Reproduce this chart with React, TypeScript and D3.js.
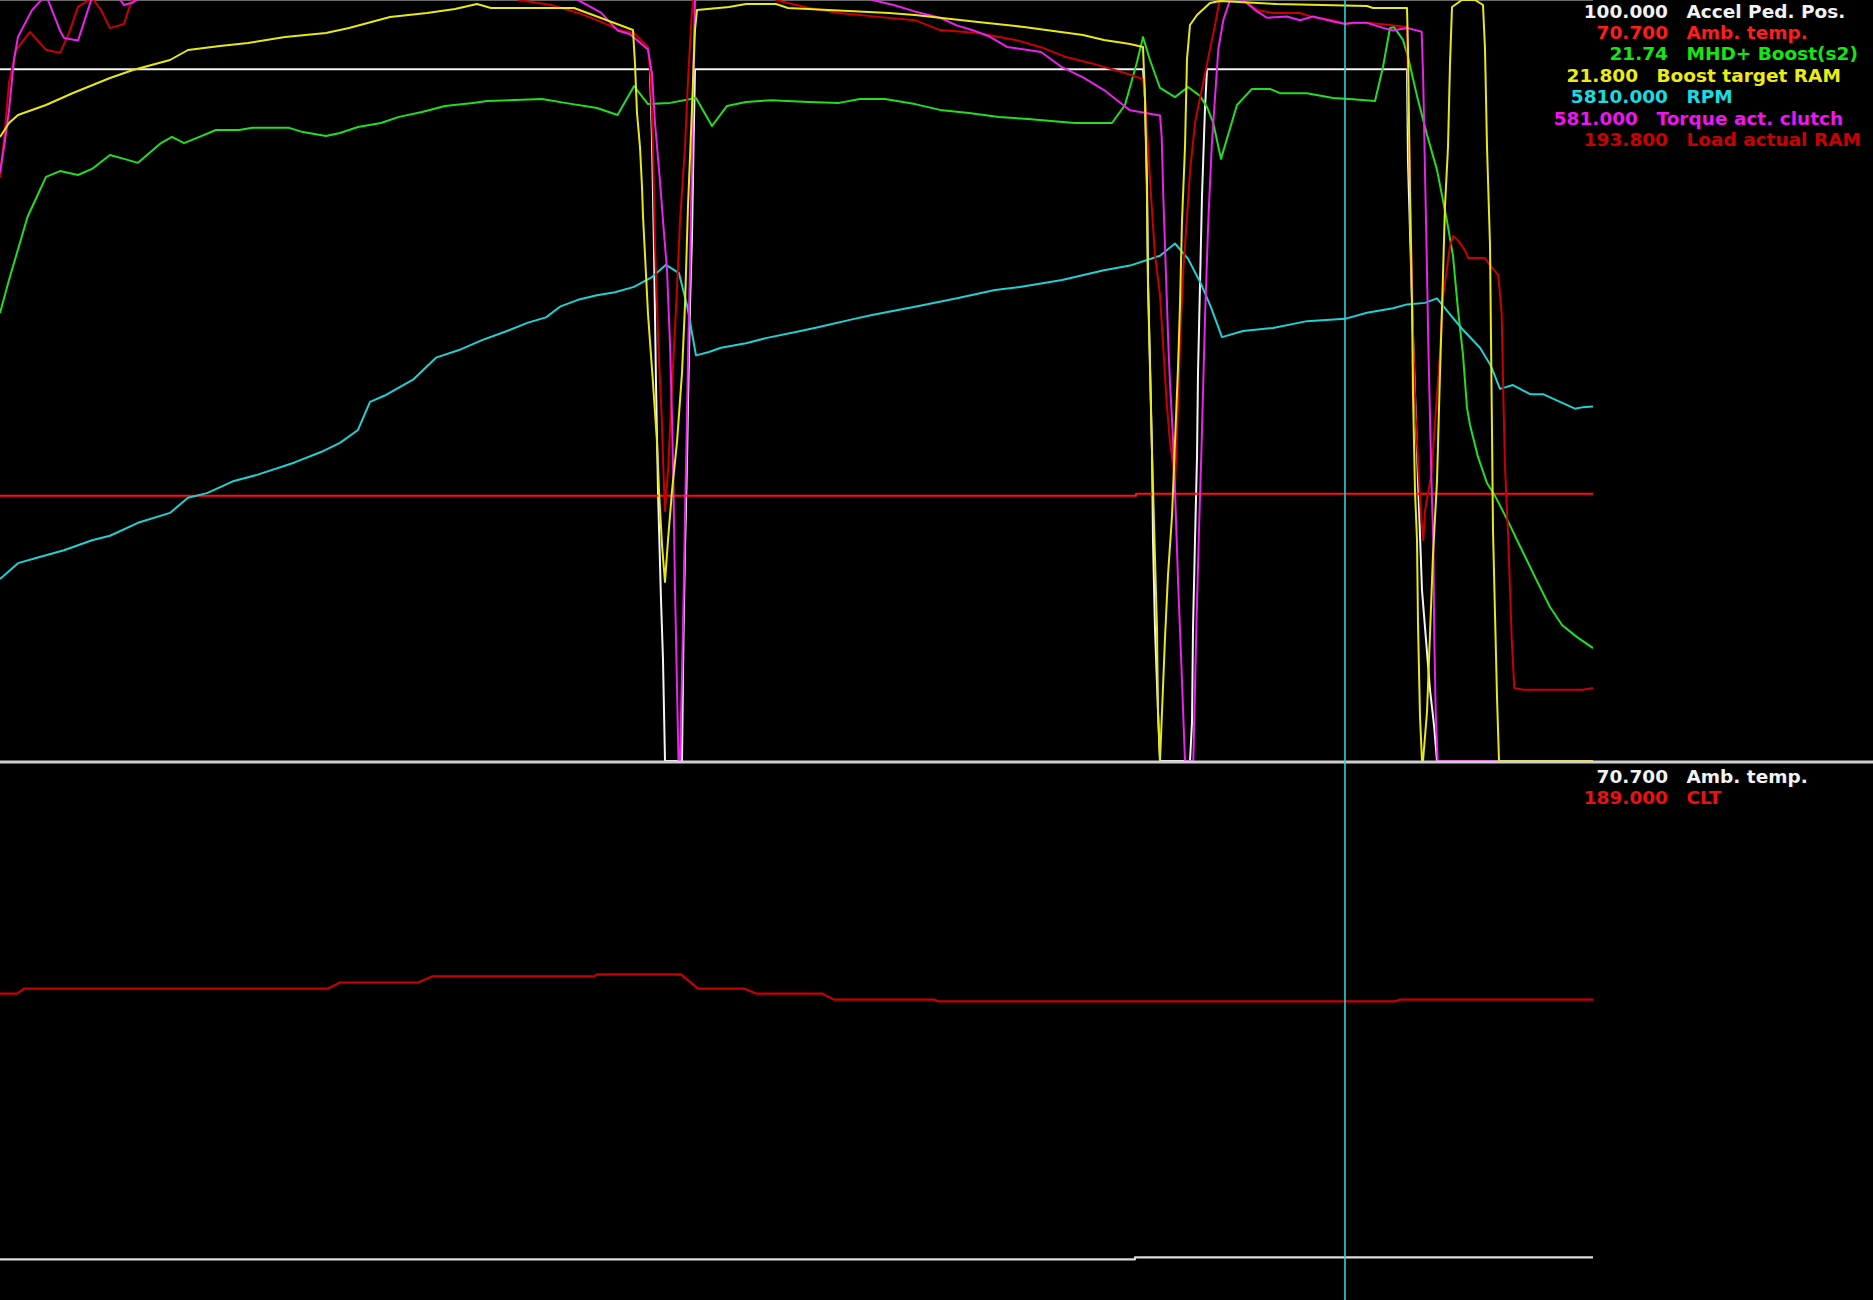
import * as d3 from "d3"

// log timeline (seconds) and cursor position
const timeDomain: [number, number] = [0, 15.93]
const cursorTime = 13.45

// ---- top panel series, [time s, value] ----
const accelPedal: [number, number][] = [
  [0, 100], [6.5, 100], [6.52, 89.8], [6.54, 73.9], [6.56, 54.6], [6.58, 39.0], [6.61, 23.3], [6.63, 14.6], [6.65, 0],
  [6.82, 0], [6.835, 18.4], [6.85, 30.5], [6.87, 43.2], [6.88, 51.7], [6.9, 65.9], [6.92, 75.9], [6.935, 88.8], [6.95, 100],
  [11.43, 100], [11.45, 95.8], [11.47, 83.4], [11.48, 69.5], [11.5, 57.5], [11.52, 44.7], [11.53, 31.9], [11.55, 19.1], [11.58, 7.1], [11.6, 0],
  [11.9, 0], [11.92, 5.6], [11.93, 19.1], [11.95, 31.9], [11.97, 43.9], [11.98, 56.1], [12.0, 68.8], [12.02, 81.7], [12.05, 94.4], [12.07, 100],
  [14.07, 100], [14.08, 86.5], [14.13, 61.6], [14.18, 40.6], [14.22, 24.7], [14.26, 17.5], [14.3, 10.3], [14.34, 5.2], [14.37, 0], [15.93, 0],
]

const ambTempTop: [number, number][] = [[0, 70.2], [11.36, 70.7], [15.93, 70.7]]

const boost: [number, number][] = [
  [0, 14.72], [0.09, 15.8], [0.275, 17.87], [0.46, 19.19], [0.6, 19.38], [0.78, 19.25], [0.92, 19.45], [1.1, 19.91], [1.24, 19.78],
  [1.38, 19.65], [1.61, 20.3], [1.72, 20.5], [1.84, 20.3], [1.97, 20.47], [2.16, 20.73], [2.39, 20.73], [2.525, 20.8], [2.89, 20.8],
  [3.03, 20.66], [3.26, 20.53], [3.4, 20.63], [3.58, 20.83], [3.81, 20.96], [3.99, 21.16], [4.22, 21.32], [4.45, 21.52], [4.73, 21.62],
  [4.87, 21.68], [5.42, 21.75], [5.65, 21.62], [5.97, 21.45], [6.175, 21.22], [6.34, 22.17], [6.48, 21.58], [6.7, 21.62], [6.96, 21.78],
  [7.12, 20.86], [7.27, 21.52], [7.46, 21.65], [7.715, 21.71], [8.09, 21.65], [8.39, 21.62], [8.6, 21.75], [8.85, 21.75], [9.15, 21.58],
  [9.4, 21.39], [9.69, 21.29], [9.99, 21.16], [10.28, 21.09], [10.745, 20.96], [11.12, 20.96], [11.25, 21.55], [11.37, 22.96],
  [11.43, 23.78], [11.5, 23.03], [11.6, 22.11], [11.75, 21.81], [11.88, 22.14], [12.0, 21.85], [12.07, 21.48], [12.13, 20.99],
  [12.21, 19.78], [12.37, 21.55], [12.52, 22.08], [12.7, 22.08], [12.8, 21.94], [13.07, 21.94], [13.33, 21.78], [13.53, 21.74],
  [13.75, 21.68], [13.83, 22.8], [13.9, 24.08], [13.94, 24.11], [14.03, 23.69], [14.08, 23.13], [14.17, 21.85], [14.27, 20.57],
  [14.37, 19.42], [14.47, 17.74], [14.53, 16.59], [14.58, 14.82], [14.63, 13.34], [14.67, 11.6], [14.7, 11.04], [14.78, 9.99],
  [14.87, 9.13], [14.95, 8.71], [15.08, 7.88], [15.17, 7.26], [15.37, 5.91], [15.5, 5.06], [15.62, 4.47], [15.77, 4.07], [15.93, 3.71],
]

const boostTarget: [number, number][] = [
  [0, 20.48], [0.09, 20.62], [0.18, 20.7], [0.46, 20.8], [0.73, 20.92], [1.1, 21.07], [1.33, 21.15], [1.7, 21.25], [1.88, 21.35],
  [2.2, 21.39], [2.48, 21.42], [2.85, 21.48], [3.26, 21.52], [3.49, 21.57], [3.9, 21.68], [4.27, 21.72], [4.55, 21.76], [4.77, 21.81],
  [4.91, 21.77], [5.74, 21.77], [6.01, 21.67], [6.33, 21.55], [6.35, 21.21], [6.37, 20.72], [6.4, 20.38], [6.42, 19.98], [6.43, 19.69],
  [6.45, 19.3], [6.48, 18.71], [6.53, 18.02], [6.57, 17.43], [6.59, 16.94], [6.62, 16.4], [6.65, 16.03], [6.68, 16.45], [6.72, 16.94],
  [6.77, 17.43], [6.82, 18.12], [6.85, 18.8], [6.88, 19.79], [6.92, 20.77], [6.95, 21.55], [6.97, 21.75], [7.29, 21.78], [7.46, 21.81],
  [7.76, 21.81], [7.88, 21.77], [8.89, 21.72], [9.15, 21.7], [9.78, 21.63], [10.24, 21.58], [10.83, 21.5], [11.04, 21.45], [11.3, 21.41],
  [11.43, 21.38], [11.45, 20.87], [11.47, 19.89], [11.48, 19.0], [11.5, 18.17], [11.52, 17.33], [11.57, 15.56], [11.58, 14.73],
  [11.6, 14.24], [11.62, 14.73], [11.65, 15.47], [11.68, 16.1], [11.72, 16.69], [11.75, 17.43], [11.78, 18.17], [11.8, 18.8],
  [11.82, 19.64], [11.85, 20.38], [11.87, 21.26], [11.9, 21.6], [11.97, 21.7], [12.1, 21.82], [12.2, 21.84], [12.77, 21.81],
  [13.67, 21.79], [13.73, 21.77], [14.07, 21.77], [14.08, 21.36], [14.09, 20.62], [14.1, 19.89], [14.11, 19.4], [14.12, 18.81],
  [14.13, 17.92], [14.15, 16.94], [14.17, 16.45], [14.18, 15.61], [14.2, 14.68], [14.22, 14.24], [14.23, 14.24], [14.27, 14.73],
  [14.33, 16.3], [14.37, 17.04], [14.4, 18.12], [14.43, 19.1], [14.45, 19.79], [14.48, 20.38], [14.5, 21.21], [14.52, 21.78],
  [14.62, 21.85], [14.75, 21.85], [14.83, 21.8], [14.85, 21.36], [14.87, 20.38], [14.9, 19.4], [14.92, 17.53], [14.93, 16.55],
  [14.95, 15.71], [14.97, 14.88], [14.99, 14.24], [15.93, 14.24],
]

const rpm: [number, number][] = [
  [0, 2390], [0.18, 2600], [0.37, 2670], [0.64, 2770], [0.92, 2900], [1.1, 2960], [1.38, 3130], [1.7, 3260], [1.88, 3460], [2.07, 3520],
  [2.34, 3680], [2.57, 3760], [2.94, 3920], [3.21, 4060], [3.4, 4180], [3.58, 4350], [3.7, 4720], [3.86, 4810], [4.13, 5010], [4.36, 5300],
  [4.59, 5400], [4.82, 5530], [5.05, 5640], [5.28, 5760], [5.46, 5830], [5.6, 5970], [5.78, 6060], [5.97, 6120], [6.15, 6160], [6.34, 6230],
  [6.52, 6360], [6.66, 6520], [6.79, 6410], [6.87, 5990], [6.96, 5330], [7.09, 5375], [7.21, 5430], [7.46, 5490], [7.67, 5560], [7.97, 5640],
  [8.18, 5700], [8.51, 5800], [8.72, 5860], [9.15, 5970], [9.57, 6080], [9.95, 6190], [10.2, 6230], [10.62, 6320], [11.04, 6450],
  [11.3, 6510], [11.6, 6640], [11.75, 6800], [11.88, 6600], [12.01, 6270], [12.11, 5960], [12.22, 5570], [12.43, 5650], [12.73, 5690],
  [13.07, 5780], [13.45, 5810], [13.67, 5890], [13.93, 5950], [14.07, 6000], [14.25, 6020], [14.37, 6080], [14.5, 5870], [14.62, 5680],
  [14.8, 5430], [14.91, 5190], [15.0, 4890], [15.13, 4940], [15.3, 4820], [15.43, 4820], [15.6, 4720], [15.75, 4630], [15.83, 4650], [15.93, 4660],
]

const torqueClutch: [number, number][] = [
  [0, 464], [0.046, 487], [0.09, 513], [0.14, 553], [0.18, 571], [0.32, 592], [0.46, 604], [0.6, 576], [0.64, 570], [0.78, 568],
  [0.92, 602], [1.0, 612], [1.15, 606], [1.24, 596], [1.33, 598], [1.38, 601], [1.6, 618], [3.0, 640], [4.5, 634], [5.6, 612],
  [5.78, 600], [6.01, 590], [6.175, 576], [6.3, 573], [6.48, 561], [6.52, 542], [6.55, 503], [6.6, 457], [6.63, 426], [6.67, 387],
  [6.7, 329], [6.72, 271], [6.735, 213], [6.75, 136], [6.77, 58], [6.785, 0], [6.8, 0], [6.817, 58], [6.833, 116], [6.85, 193],
  [6.867, 259], [6.883, 329], [6.9, 387], [6.917, 464], [6.933, 542], [6.95, 600], [7.0, 612], [7.8, 625], [8.6, 606], [8.725, 600],
  [8.936, 596], [9.146, 591], [9.4, 586], [9.567, 580], [9.735, 576], [9.9, 571], [10.07, 563], [10.41, 559], [10.62, 547], [10.83, 539],
  [11.04, 529], [11.25, 516], [11.3, 513], [11.6, 509], [11.617, 492], [11.633, 445], [11.65, 406], [11.667, 367], [11.683, 329],
  [11.7, 298], [11.727, 259], [11.75, 213], [11.767, 174], [11.783, 136], [11.8, 104], [11.817, 69], [11.833, 35], [11.85, 0],
  [11.933, 0], [11.95, 58], [11.967, 116], [11.99, 182], [12.017, 252], [12.05, 349], [12.083, 426], [12.117, 484], [12.15, 523],
  [12.183, 561], [12.233, 584], [12.3, 600], [12.36, 604], [12.43, 600], [12.57, 591], [12.67, 586], [12.87, 587], [13.0, 584],
  [13.13, 587], [13.33, 583], [13.45, 581], [13.53, 582], [13.67, 582], [13.83, 578], [13.93, 576], [14.07, 578], [14.217, 575],
  [14.233, 534], [14.25, 464], [14.267, 399], [14.283, 329], [14.3, 271], [14.317, 213], [14.333, 174], [14.343, 97], [14.357, 39],
  [14.377, 0], [15.93, 0],
]

const loadActual: [number, number][] = [
  [0, 153.5], [0.046, 165.0], [0.09, 178.2], [0.16, 186.9], [0.3, 191.6], [0.46, 186.9], [0.6, 186.1], [0.69, 191.3], [0.78, 198.2],
  [0.92, 200.5], [1.01, 197.4], [1.1, 192.6], [1.24, 193.7], [1.285, 197.4], [1.33, 200.5], [1.5, 206], [3.0, 210], [4.5, 208],
  [5.1, 202], [5.19, 200], [5.51, 198.7], [5.785, 196.6], [5.97, 194.7], [6.2, 192.1], [6.34, 191.3], [6.48, 187.6], [6.507, 179.2],
  [6.53, 161.4], [6.55, 135.6], [6.583, 109.6], [6.617, 90.4], [6.633, 77.3], [6.65, 65.7], [6.683, 77.3], [6.717, 96.7], [6.767, 122.5],
  [6.8, 141.9], [6.85, 161.4], [6.883, 180.5], [6.917, 196.0], [6.933, 200.5], [7.0, 205], [7.4, 204], [7.7, 201], [7.76, 200],
  [7.88, 199.2], [8.09, 197.9], [8.39, 196.6], [8.81, 195.5], [9.15, 194.7], [9.4, 192.1], [9.78, 191.3], [10.156, 189.5], [10.41, 187.6],
  [10.66, 185.0], [10.91, 183.4], [11.25, 180.8], [11.43, 179.2], [11.45, 174.2], [11.48, 161.4], [11.517, 145.9], [11.55, 133.0],
  [11.6, 122.5], [11.667, 94.1], [11.7, 83.8], [11.733, 77.3], [11.75, 72.5], [11.767, 83.8], [11.8, 109.6], [11.833, 129.0],
  [11.867, 141.9], [11.9, 154.8], [11.95, 167.7], [12.0, 174.2], [12.05, 180.5], [12.1, 187.1], [12.15, 193.4], [12.2, 200.5],
  [12.3, 202], [12.43, 200], [12.57, 197.4], [12.73, 196.6], [13.0, 196.6], [13.13, 195.5], [13.33, 194.7], [13.45, 193.8],
  [13.67, 194.0], [13.9, 193.4], [14.07, 192.9], [14.083, 174.2], [14.1, 150.8], [14.117, 127.7], [14.133, 109.6], [14.157, 90.3],
  [14.183, 77.3], [14.21, 64.4], [14.233, 58.1], [14.25, 65.7], [14.317, 76.1], [14.35, 89.1], [14.4, 107.0], [14.433, 122.5],
  [14.467, 129.0], [14.5, 135.4], [14.533, 138.0], [14.583, 136.7], [14.65, 134.2], [14.683, 132.2], [14.85, 132.2], [14.9, 130.3],
  [14.983, 127.7], [15.017, 117.5], [15.033, 96.7], [15.05, 77.3], [15.083, 58.1], [15.117, 32.3], [15.143, 19.2], [15.23, 18.7],
  [15.83, 18.7], [15.93, 19.2],
]

// ---- bottom panel series ----
const ambTempBottom: [number, number][] = [[0, 70.2], [11.35, 70.7], [15.93, 70.7]]

const coolantTemp: [number, number][] = [
  [0, 191.3], [0.17, 191.3], [0.24, 192.8], [3.28, 192.8], [3.4, 194.6], [4.18, 194.6], [4.32, 196.4], [5.94, 196.4], [5.97, 197.0],
  [6.81, 197.0], [6.98, 192.8], [7.44, 192.8], [7.56, 191.3], [8.22, 191.3], [8.34, 189.5], [9.34, 189.5], [9.38, 189.0],
  [13.95, 189.0], [14.0, 189.5], [15.93, 189.5],
]

// legend text (value at cursor + channel name)
const topLegendValues = ["100.000", "70.700", "21.74", "21.800", "5810.000", "581.000", "193.800"]
const topLegendNames = ["Accel Ped. Pos.", "Amb. temp.", "MHD+ Boost(s2)", "Boost target RAM", "RPM", "Torque act. clutch", "Load actual RAM"]
const topLegendColors = ["#f2f2f2", "#ff1c1c", "#14e614", "#ecec10", "#16dde0", "#ee16ee", "#cc0000"]

const bottomLegendValues = ["70.700", "189.000"]
const bottomLegendNames = ["Amb. temp.", "CLT"]
const bottomLegendColors = ["#f2f2f2", "#ee1010"]

const W = 1873
const H = 1300
const PLOT_RIGHT = 1593
const TOP_BOTTOM = 761
const BOTTOM_TOP = 763

type Series = {
  data: [number, number][]
  domain: [number, number]
  color: string
  step?: boolean
}

const App = () => {
  const x = d3.scaleLinear().domain(timeDomain).range([0, PLOT_RIGHT])

  const topSeries: Series[] = [
    { data: accelPedal, domain: [0, 110], color: "#f4f4f4" },
    { data: ambTempTop, domain: [4, 194], color: "#ff1010", step: true },
    { data: boost, domain: [0, 25], color: "#22dd22" },
    { data: rpm, domain: [0, 10000], color: "#22cfd2" },
    { data: loadActual, domain: [0, 200], color: "#c80000" },
    { data: torqueClutch, domain: [0, 600], color: "#ea22ea" },
    { data: boostTarget, domain: [14.24, 21.85], color: "#e8e814" },
  ]

  const bottomSeries: Series[] = [
    { data: ambTempBottom, domain: [60, 194.5], color: "#dcdcdc", step: true },
    { data: coolantTemp, domain: [100, 260], color: "#c80000" },
  ]

  const makePath = (s: Series, range: [number, number]) => {
    const y = d3.scaleLinear().domain(s.domain).range(range)
    const line = d3
      .line<[number, number]>()
      .x((d) => x(d[0]))
      .y((d) => y(d[1]))
      .curve(s.step ? d3.curveStepAfter : d3.curveLinear)
    return line(s.data) || ""
  }

  const legendFont = { fontFamily: "DejaVu Sans", fontWeight: 700, fontSize: 18.5 }

  return (
    <svg width={W} height={H} style={{ position: "absolute", left: 0, top: 0, background: "#000", display: "block" }}>
      <defs>
        <clipPath id="clipTop">
          <rect x={0} y={0} width={PLOT_RIGHT} height={TOP_BOTTOM + 1} />
        </clipPath>
        <clipPath id="clipBottom">
          <rect x={0} y={BOTTOM_TOP} width={PLOT_RIGHT} height={H - BOTTOM_TOP} />
        </clipPath>
      </defs>
      <rect x={0} y={0} width={W} height={H} fill="#000" />

      {/* panel frame lines */}
      <line x1={0} x2={PLOT_RIGHT} y1={0.5} y2={0.5} stroke="#6a6a6a" strokeWidth={1} />

      <g clipPath="url(#clipTop)" fill="none" strokeWidth={2} strokeLinejoin="round">
        {topSeries.map((s, i) => (
          <path key={i} d={makePath(s, [TOP_BOTTOM, 0])} stroke={s.color} />
        ))}
      </g>

      <g clipPath="url(#clipBottom)" fill="none" strokeWidth={2.2} strokeLinejoin="round">
        {bottomSeries.map((s, i) => (
          <path key={i} d={makePath(s, [H, BOTTOM_TOP])} stroke={s.color} />
        ))}
      </g>

      <line x1={0} x2={W} y1={762} y2={762} stroke="#cfcfcf" strokeWidth={3} />

      {/* cursor */}
      <line x1={x(cursorTime)} x2={x(cursorTime)} y1={0} y2={H} stroke="#2ad4d8" strokeWidth={1.6} />

      {topLegendNames.map((name, i) => {
        const shift = name.length > 15 ? -30 : 0
        const yy = 17.5 + i * 21.4
        return (
          <g key={name} fill={topLegendColors[i]} style={legendFont}>
            <text x={1668 + shift} y={yy} textAnchor="end">{topLegendValues[i]}</text>
            <text x={1686.5 + shift} y={yy}>{name}</text>
          </g>
        )
      })}

      {bottomLegendNames.map((name, i) => {
        const yy = 783 + i * 21.4
        return (
          <g key={name} fill={bottomLegendColors[i]} style={legendFont}>
            <text x={1668} y={yy} textAnchor="end">{bottomLegendValues[i]}</text>
            <text x={1686.5} y={yy}>{name}</text>
          </g>
        )
      })}
    </svg>
  )
}

export default App
